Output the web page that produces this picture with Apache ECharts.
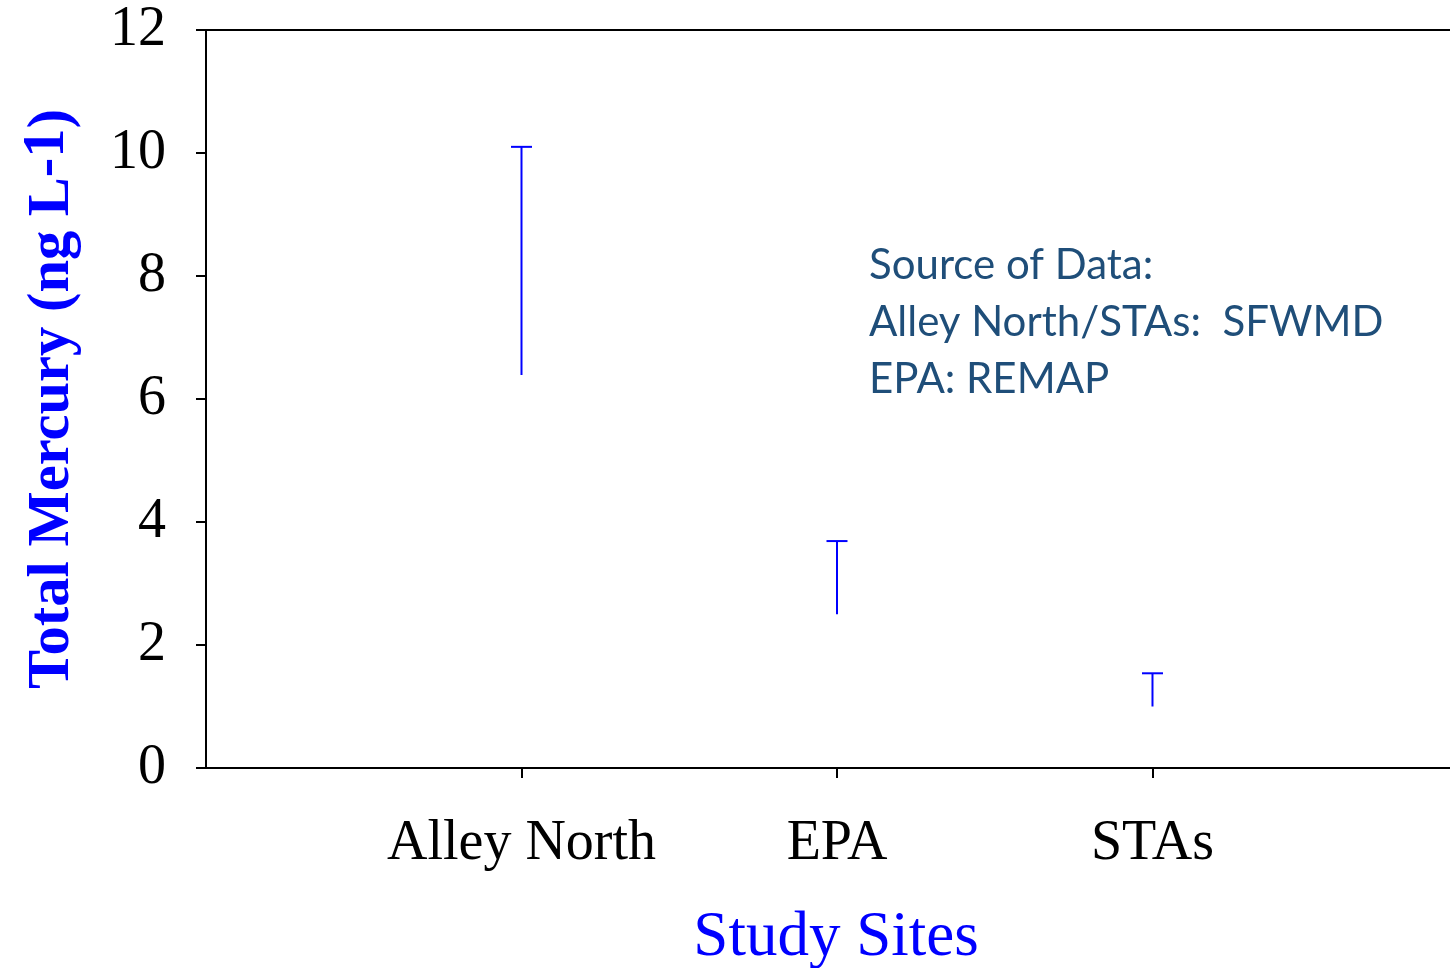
<!DOCTYPE html>
<html>
<head>
<meta charset="utf-8">
<script src="https://cdn.jsdelivr.net/npm/echarts@6/dist/echarts.min.js"></script>
<style>
  html, body { margin: 0; padding: 0; background: #fff; }
  #chart { width: 1450px; height: 968px; }
</style>
</head>
<body>
<div id="chart"></div>
<script>
// Study sites and total mercury range (ng/L) at each site
const sites = ['Alley North', 'EPA', 'STAs'];
const lowValues = [6.39, 2.50, 1.00];
const highValues = [10.10, 3.69, 1.54];
const yTicks = [0, 2, 4, 6, 8, 10, 12];
const sourceLines = ['Source of Data:', 'Alley North/STAs:  SFWMD', 'EPA: REMAP'];

const serif = "'Liberation Serif', 'Times New Roman', serif";
const sitePositions = sites.map((s, i) => i + 1);
const rangeData = sites.map((s, i) => [sitePositions[i], lowValues[i], highValues[i]]);
// x range runs a little past the last site so the frame is open on the right
const xMax = 3.943;

const chart = echarts.init(document.getElementById('chart'));
chart.setOption({
  animation: false,
  backgroundColor: '#ffffff',
  grid: { left: 206, top: 30, right: 0, bottom: 200, containLabel: false, outerBoundsMode: 'none' },
  xAxis: [{
    type: 'value', min: 0, max: xMax,
    splitLine: { show: false },
    axisLine: { show: true, lineStyle: { color: '#000', width: 2 } },
    axisTick: { show: true, length: 10, inside: false, customValues: sitePositions, lineStyle: { color: '#000', width: 2 } },
    axisLabel: {
      customValues: sitePositions,
      formatter: v => sites[v - 1] || '',
      color: '#000', fontFamily: serif, fontSize: 56, margin: 48
    },
    name: 'Study Sites', nameLocation: 'middle', nameGap: 139,
    nameTextStyle: { color: '#0000ff', fontFamily: serif, fontSize: 63, padding: [0, 0, 0, 16] }
  }, {
    // top frame line
    type: 'value', position: 'top', min: 0, max: xMax,
    splitLine: { show: false },
    axisLine: { show: true, onZero: false, lineStyle: { color: '#000', width: 2 } },
    axisTick: { show: false },
    axisLabel: { show: false }
  }],
  yAxis: {
    type: 'value', min: yTicks[0], max: yTicks[yTicks.length - 1], interval: 2,
    splitLine: { show: false },
    axisLine: { show: true, lineStyle: { color: '#000', width: 2 } },
    axisTick: { show: true, length: 10, inside: false, lineStyle: { color: '#000', width: 2 } },
    axisLabel: { color: '#000', fontFamily: serif, fontSize: 56, margin: 40 },
    name: '{m|Total Mercury (ng L}{s|-1}{m|)}',
    nameLocation: 'middle', nameRotate: 90, nameGap: 118,
    nameTextStyle: {
      rich: {
        m: { color: '#0000ff', fontFamily: serif, fontWeight: 'bold', fontSize: 58.5, lineHeight: 70 },
        s: { color: '#0000ff', fontFamily: serif, fontWeight: 'bold', fontSize: 58.5, lineHeight: 36, verticalAlign: 'top' }
      }
    }
  },
  series: [{
    type: 'custom',
    xAxisIndex: 0,
    data: rangeData,
    encode: { x: 0, y: [1, 2] },
    renderItem: (params, api) => {
      const x = api.value(0);
      const lo = api.coord([x, api.value(1)]);
      const hi = api.coord([x, api.value(2)]);
      const half = 10.5;
      const style = { stroke: '#0000ff', lineWidth: 2, fill: null };
      return {
        type: 'group',
        children: [
          { type: 'line', shape: { x1: lo[0], y1: lo[1], x2: hi[0], y2: hi[1] }, style },
          { type: 'line', shape: { x1: hi[0] - half, y1: hi[1], x2: hi[0] + half, y2: hi[1] }, style }
        ]
      };
    }
  }],
  graphic: [{
    type: 'text',
    left: 869, top: 237,
    style: {
      text: sourceLines.join('\n'),
      fill: '#1f4e79',
      font: "42px Lato, 'Noto Sans', sans-serif",
      lineHeight: 57
    }
  }]
});
</script>
</body>
</html>
